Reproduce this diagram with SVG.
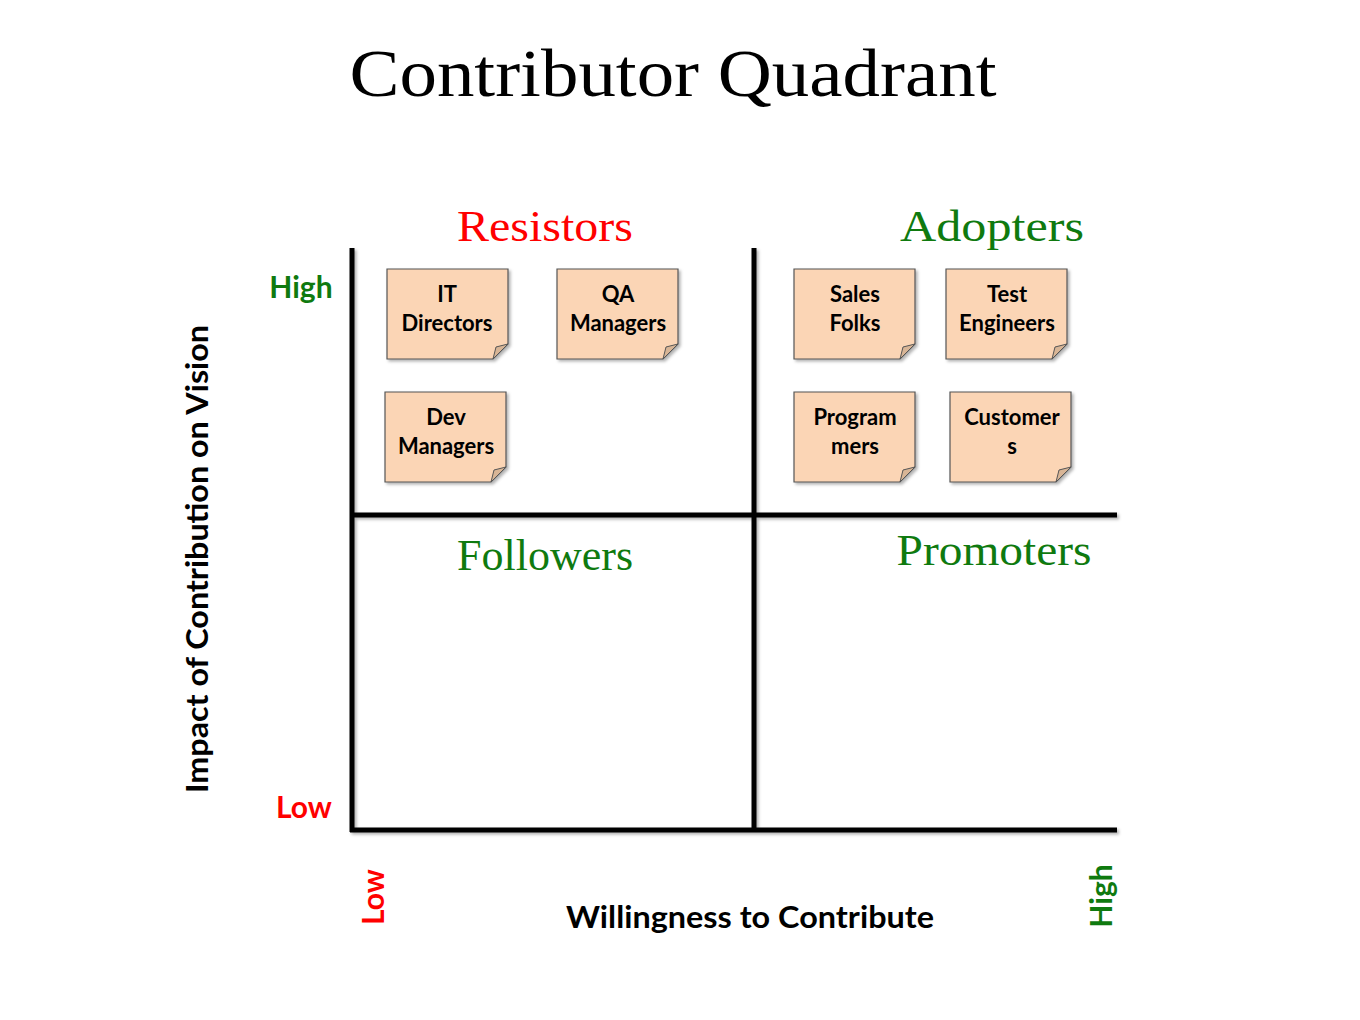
<svg xmlns="http://www.w3.org/2000/svg" width="1360" height="1020" viewBox="0 0 1360 1020">
<style>
.title{font-family:"Liberation Serif","DejaVu Serif",serif;font-size:68px;fill:#000}
.quad{font-family:"Liberation Serif","DejaVu Serif",serif;font-size:44px}
.red{fill:#ff0000}
.green{fill:#0f7a0f}
.ax{font-family:Lato,"Open Sans","Liberation Sans",sans-serif;font-weight:bold;font-size:30px}
.nt{font-family:Lato,"Open Sans","Liberation Sans",sans-serif;font-weight:bold;font-size:22px;fill:#000;text-anchor:middle}
.note{fill:#fbd5b5;stroke:#555;stroke-width:1.2}
.fold{fill:#d8b596;stroke:#555;stroke-width:1}
.line{stroke:#000;stroke-width:5;fill:none}
</style>
<defs>
<filter id="sh" x="-10%" y="-10%" width="130%" height="130%">
<feDropShadow dx="2" dy="2" stdDeviation="1.5" flood-color="#000" flood-opacity="0.3"/>
</filter>
<path id="n" d="M0,0 H121 V75 L106,90 H0 Z"/>
<path id="f" d="M121,75 L106,90 L109,78 Z"/>
</defs>
<rect width="1360" height="1020" fill="#fff"/>
<text class="title" x="673" y="96" text-anchor="middle" textLength="647" lengthAdjust="spacingAndGlyphs">Contributor Quadrant</text>

<g id="axes" filter="url(#sh)">
<line class="line" x1="352" y1="248" x2="352" y2="832"/>
<line class="line" x1="754" y1="248" x2="754" y2="832"/>
<line class="line" x1="352" y1="515" x2="1117" y2="515"/>
<line class="line" x1="350" y1="830" x2="1117" y2="830"/>
</g>

<text class="quad red" x="545" y="241" text-anchor="middle" textLength="176" lengthAdjust="spacingAndGlyphs">Resistors</text>
<text class="quad green" x="992" y="241" text-anchor="middle" textLength="184" lengthAdjust="spacingAndGlyphs">Adopters</text>
<text class="quad green" x="545" y="570" text-anchor="middle" textLength="176" lengthAdjust="spacingAndGlyphs">Followers</text>
<text class="quad green" x="994" y="565" text-anchor="middle" textLength="195" lengthAdjust="spacingAndGlyphs">Promoters</text>

<text class="ax green" x="301" y="298" text-anchor="middle">High</text>
<text class="ax red" x="304" y="818" text-anchor="middle">Low</text>
<text class="ax" x="0" y="0" text-anchor="middle" transform="translate(208,559) rotate(-90)" textLength="468" lengthAdjust="spacingAndGlyphs">Impact of Contribution on Vision</text>
<text class="ax" x="750" y="928" text-anchor="middle" textLength="368" lengthAdjust="spacingAndGlyphs">Willingness to Contribute</text>
<text class="ax red" x="0" y="0" text-anchor="middle" transform="translate(384,897) rotate(-90)">Low</text>
<text class="ax green" x="0" y="0" text-anchor="middle" transform="translate(1112,896) rotate(-90)">High</text>

<g id="it-directors" transform="translate(387,269)">
<use href="#n" class="note" filter="url(#sh)"/><use href="#f" class="fold"/>
<text class="nt" x="60" y="33">IT</text><text class="nt" x="60" y="62">Directors</text>
</g>
<g id="qa-managers" transform="translate(557,269)">
<use href="#n" class="note" filter="url(#sh)"/><use href="#f" class="fold"/>
<text class="nt" x="61" y="33">QA</text><text class="nt" x="61" y="62">Managers</text>
</g>
<g id="dev-managers" transform="translate(385,392)">
<use href="#n" class="note" filter="url(#sh)"/><use href="#f" class="fold"/>
<text class="nt" x="61" y="33">Dev</text><text class="nt" x="61" y="62">Managers</text>
</g>
<g id="sales-folks" transform="translate(794,269)">
<use href="#n" class="note" filter="url(#sh)"/><use href="#f" class="fold"/>
<text class="nt" x="61" y="33">Sales</text><text class="nt" x="61" y="62">Folks</text>
</g>
<g id="test-engineers" transform="translate(946,269)">
<use href="#n" class="note" filter="url(#sh)"/><use href="#f" class="fold"/>
<text class="nt" x="61" y="33">Test</text><text class="nt" x="61" y="62">Engineers</text>
</g>
<g id="programmers" transform="translate(794,392)">
<use href="#n" class="note" filter="url(#sh)"/><use href="#f" class="fold"/>
<text class="nt" x="61" y="33">Program</text><text class="nt" x="61" y="62">mers</text>
</g>
<g id="customers" transform="translate(950,392)">
<use href="#n" class="note" filter="url(#sh)"/><use href="#f" class="fold"/>
<text class="nt" x="62" y="33">Customer</text><text class="nt" x="62" y="62">s</text>
</g>
</svg>
